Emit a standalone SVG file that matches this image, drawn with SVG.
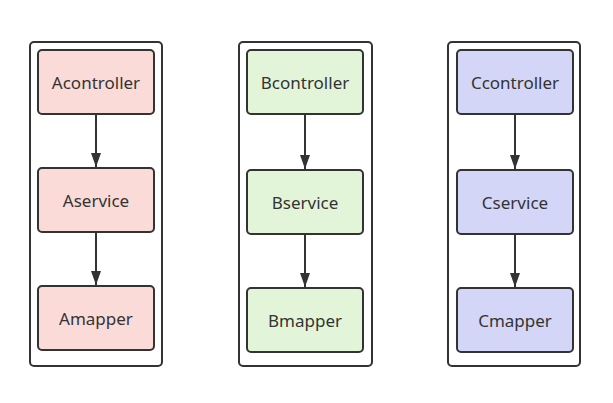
<svg xmlns="http://www.w3.org/2000/svg" width="613" height="403" viewBox="0 0 613 403">
<defs>
<marker id="ah" viewBox="0 0 14 10" refX="14" refY="5" markerWidth="14" markerHeight="10" markerUnits="userSpaceOnUse" orient="auto">
<path d="M0,0 L14,5 L0,10 z" fill="#333"/>
</marker>
<style>
.outer{fill:#fff;stroke:#333;stroke-width:2}
.node{stroke:#333;stroke-width:2}
.a{fill:#fadbd8}.b{fill:#e3f5d9}.c{fill:#d3d6f7}
text{font-family:"Noto Sans","Open Sans","Liberation Sans",sans-serif;font-size:17px;fill:#333;text-anchor:middle;dominant-baseline:central}
.conn{stroke:#333;stroke-width:2;fill:none;marker-end:url(#ah)}
</style>
</defs>
<rect width="613" height="403" fill="#fff"/>
<g id="groupA"><rect class="outer" x="30" y="42" width="132" height="324" rx="4"/></g>
<g id="groupB"><rect class="outer" x="239" y="42" width="133" height="324" rx="4"/></g>
<g id="groupC"><rect class="outer" x="448" y="42" width="132" height="324" rx="4"/></g>
<g id="Acontroller"><rect class="node a" x="38" y="50" width="116" height="64" rx="4"/><text x="96" y="82">Acontroller</text></g>
<g id="Aservice"><rect class="node a" x="38" y="168" width="116" height="64" rx="4"/><text x="96" y="200">Aservice</text></g>
<g id="Amapper"><rect class="node a" x="38" y="286" width="116" height="64" rx="4"/><text x="96" y="318">Amapper</text></g>
<g id="Bcontroller"><rect class="node b" x="247" y="50" width="116" height="64" rx="4"/><text x="305" y="82">Bcontroller</text></g>
<g id="Bservice"><rect class="node b" x="247" y="170" width="116" height="64" rx="4"/><text x="305" y="202">Bservice</text></g>
<g id="Bmapper"><rect class="node b" x="247" y="288" width="116" height="64" rx="4"/><text x="305" y="320">Bmapper</text></g>
<g id="Ccontroller"><rect class="node c" x="457" y="50" width="116" height="64" rx="4"/><text x="515" y="82">Ccontroller</text></g>
<g id="Cservice"><rect class="node c" x="457" y="170" width="116" height="64" rx="4"/><text x="515" y="202">Cservice</text></g>
<g id="Cmapper"><rect class="node c" x="457" y="288" width="116" height="64" rx="4"/><text x="515" y="320">Cmapper</text></g>
<g id="connectors">
<line class="conn" x1="96" y1="114" x2="96" y2="167"/>
<line class="conn" x1="96" y1="232" x2="96" y2="285"/>
<line class="conn" x1="305" y1="114" x2="305" y2="169"/>
<line class="conn" x1="305" y1="234" x2="305" y2="287"/>
<line class="conn" x1="515" y1="114" x2="515" y2="169"/>
<line class="conn" x1="515" y1="234" x2="515" y2="287"/>
</g>
</svg>
